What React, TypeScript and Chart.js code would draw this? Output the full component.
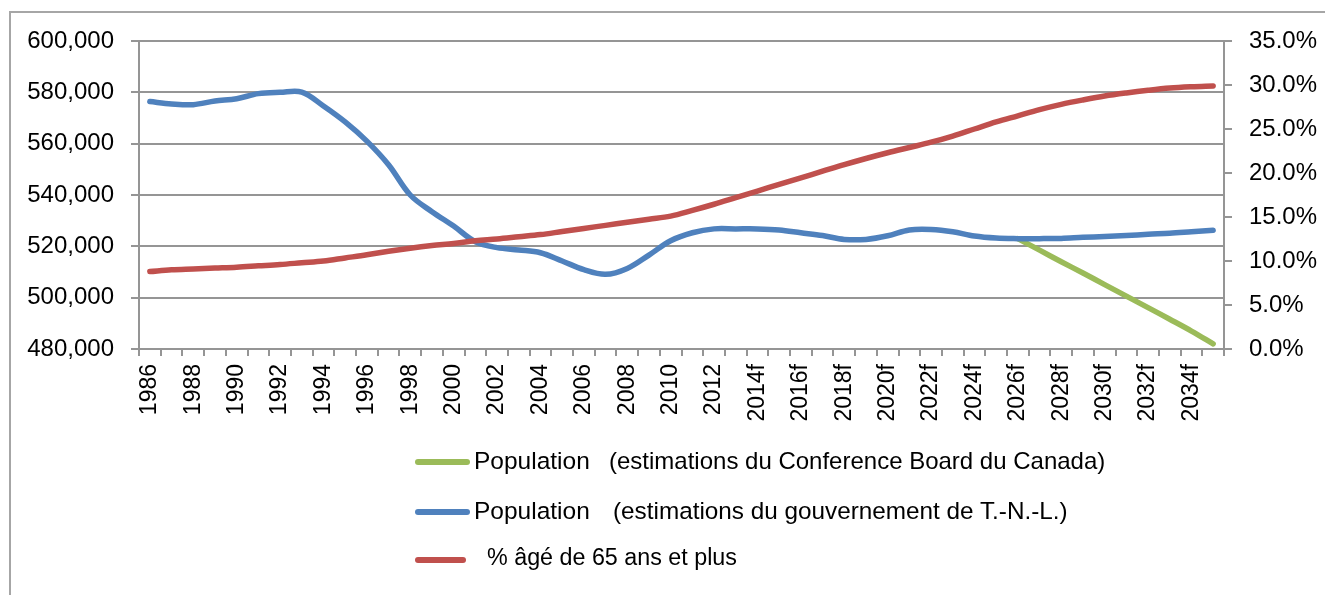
import React, { useEffect, useRef } from "react";
import { Chart, registerables } from "chart.js";

Chart.register(...registerables);

const FONT = "'Liberation Sans', Arial, sans-serif";

const yearLabels = [
  "1986", "1987", "1988", "1989", "1990", "1991", "1992", "1993", "1994", "1995",
  "1996", "1997", "1998", "1999", "2000", "2001", "2002", "2003", "2004", "2005",
  "2006", "2007", "2008", "2009", "2010", "2011", "2012", "2013", "2014f", "2015f",
  "2016f", "2017f", "2018f", "2019f", "2020f", "2021f", "2022f", "2023f", "2024f", "2025f",
  "2026f", "2027f", "2028f", "2029f", "2030f", "2031f", "2032f", "2033f", "2034f", "2035f",
];

// Population, NL government estimates
const popGov = [
  576400, 575500, 575200, 576600, 577500, 579500, 580000, 580100, 574700, 568500,
  561000, 551800, 540000, 533500, 527900, 521800, 519500, 518600, 517500, 514300,
  510900, 509100, 511400, 516600, 522200, 525300, 526800, 526800, 526800, 526400,
  525300, 524200, 522700, 522700, 524100, 526400, 526600, 525700, 524000, 523200,
  523000, 523000, 523100, 523500, 523800, 524200, 524700, 525100, 525700, 526300,
];

// Population, Conference Board of Canada estimates
const popCBoC = [
  null, null, null, null, null, null, null, null, null, null,
  null, null, null, null, null, null, null, null, null, null,
  null, null, null, null, null, null, null, null, null, null,
  null, null, null, null, null, null, null, null, null, null,
  523000, 518500, 514000, 509600, 505100, 500600, 496100, 491600, 487000, 482000,
];

// % aged 65 and over
const pct65 = [
  8.8, 9.0, 9.1, 9.2, 9.3, 9.45, 9.6, 9.8, 10.0, 10.35,
  10.7, 11.1, 11.45, 11.75, 12.0, 12.3, 12.5, 12.75, 13.0, 13.35,
  13.7, 14.05, 14.4, 14.75, 15.1, 15.75, 16.45, 17.2, 17.95, 18.7,
  19.45, 20.2, 20.95, 21.65, 22.3, 22.9, 23.5, 24.2, 25.0, 25.8,
  26.5, 27.2, 27.8, 28.3, 28.75, 29.1, 29.4, 29.65, 29.8, 29.9,
];

const legendItems = [
  { color: "#9BBB59", name: "Population", note: "(estimations du Conference Board du Canada)" },
  { color: "#4F81BD", name: "Population", note: "(estimations du gouvernement de T.-N.-L.)" },
  { color: "#C0504D", name: "% âgé de 65 ans et plus", note: "" },
];

const GRID = "#959595";

export default function App() {
  const canvasRef = useRef<HTMLCanvasElement | null>(null);

  useEffect(() => {
    if (!canvasRef.current) return;
    const mk = (label: string, data: any[], color: string, axis: string, order: number) => ({
      label,
      data,
      borderColor: color,
      backgroundColor: color,
      borderWidth: 5.5,
      pointRadius: 0,
      tension: 0.35,
      borderCapStyle: "round" as const,
      borderJoinStyle: "round" as const,
      yAxisID: axis,
      order,
    });
    const chart = new Chart(canvasRef.current, {
      type: "line",
      data: {
        labels: yearLabels,
        datasets: [
          mk("Population (estimations du Conference Board du Canada)", popCBoC, "#9BBB59", "y", 3),
          mk("Population (estimations du gouvernement de T.-N.-L.)", popGov, "#4F81BD", "y", 2),
          mk("% âgé de 65 ans et plus", pct65, "#C0504D", "y1", 1),
        ],
      },
      options: {
        responsive: false,
        animation: false,
        layout: { padding: { top: 41, left: 0, right: 0, bottom: 0 } },
        plugins: { legend: { display: false }, tooltip: { enabled: false } },
        scales: {
          x: {
            offset: true,
            grid: {
              display: true,
              drawOnChartArea: false,
              drawTicks: true,
              tickLength: 7,
              color: GRID,
              lineWidth: 2,
              offset: true,
            },
            border: { display: true, color: GRID, width: 2 },
            ticks: {
              autoSkip: false,
              maxRotation: 90,
              minRotation: 90,
              padding: 8,
              color: "#000",
              font: { family: FONT, size: 23 },
              callback: (_v: any, i: number) => (i % 2 === 0 ? yearLabels[i] : ""),
            },
            afterFit: (s: any) => {
              s.height = 246;
            },
          },
          y: {
            position: "left",
            min: 480000,
            max: 600000,
            grid: { color: GRID, lineWidth: 2, tickLength: 8, drawTicks: true },
            border: { display: true, color: GRID, width: 2 },
            ticks: {
              stepSize: 20000,
              padding: 17,
              color: "#000",
              font: { family: FONT, size: 24 },
              callback: (v: any) => Number(v).toLocaleString("en-US"),
            },
            afterFit: (s: any) => {
              s.width = 139;
            },
          },
          y1: {
            position: "right",
            min: 0,
            max: 35,
            grid: { drawOnChartArea: false, color: GRID, lineWidth: 2, tickLength: 8, drawTicks: true },
            border: { display: true, color: GRID, width: 2 },
            ticks: {
              stepSize: 5,
              padding: 17,
              color: "#000",
              font: { family: FONT, size: 24 },
              callback: (v: any) => Number(v).toFixed(1) + "%",
            },
            afterFit: (s: any) => {
              s.width = 101;
            },
          },
        },
      },
    });
    return () => chart.destroy();
  }, []);

  const rowBaselines = [469, 519, 566];
  const lineEnds = [470, 470, 466];
  const nameLefts = [474, 474, 487];
  const nameSizes = [24.5, 24.5, 23.3];
  const noteLefts = [609, 613, 0];
  const noteSizes = [24, 24.3, 24];

  return (
    <div
      style={{
        position: "fixed",
        left: 0,
        top: 0,
        width: 1325,
        height: 595,
        overflow: "hidden",
        background: "#fff",
        fontFamily: FONT,
      }}
    >
      <div
        style={{
          position: "absolute",
          left: 9,
          top: 11,
          width: 1400,
          height: 700,
          border: "2px solid #a6a6a6",
          boxSizing: "border-box",
        }}
      />
      <canvas
        ref={canvasRef}
        width={1325}
        height={595}
        style={{ position: "absolute", left: 0, top: 0, width: 1325, height: 595 }}
      />
      {legendItems.map((it, i) => (
        <React.Fragment key={i}>
          <div
            style={{
              position: "absolute",
              left: 415,
              top: rowBaselines[i] - 7 - 3 + (i === 2 ? 1 : 0),
              width: lineEnds[i] - 415,
              height: 6,
              borderRadius: 3,
              background: it.color,
            }}
          />
          <span
            style={{
              position: "absolute",
              left: nameLefts[i],
              top: rowBaselines[i] - 23,
              fontSize: nameSizes[i],
              lineHeight: "29px",
              color: "#000",
              whiteSpace: "nowrap",
            }}
          >
            {it.name}
          </span>
          {it.note ? (
            <span
              style={{
                position: "absolute",
                left: noteLefts[i],
                top: rowBaselines[i] - 23,
                fontSize: noteSizes[i],
                lineHeight: "29px",
                color: "#000",
                whiteSpace: "nowrap",
              }}
            >
              {it.note}
            </span>
          ) : null}
        </React.Fragment>
      ))}
    </div>
  );
}
